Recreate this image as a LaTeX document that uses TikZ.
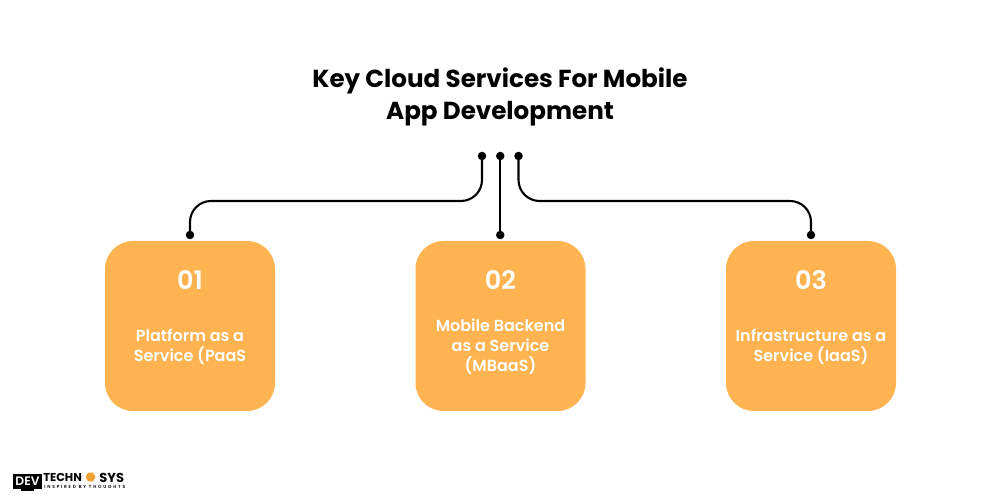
\documentclass[tikz,border=0pt]{standalone}
\usepackage{fontspec}
\setmainfont{Poppins}[BoldFont={Poppins SemiBold}]
\newfontfamily\headfont{Poppins Bold}
\usepackage{xcolor}
\usetikzlibrary{shapes.geometric}
\definecolor{boxorange}{RGB}{255,179,81}
\definecolor{hexorange}{RGB}{245,160,50}
\tikzset{
  servicebox/.style={fill=boxorange,rounded corners=0.56cm,minimum width=3.4cm,minimum height=3.4cm,inner sep=0pt},
  tipdot/.style={circle,fill=black,inner sep=0pt,minimum size=0.17cm},
  wire/.style={line width=0.042cm,black,rounded corners=0.42cm},
  numtext/.style={text=white,font=\fontsize{14.5}{16}\selectfont\bfseries},
  labeltext/.style={text=white,align=center,font=\fontsize{9.1}{11.4}\selectfont\bfseries},
  logotext/.style={black,inner sep=0pt,font=\fontsize{6.5}{6.5}\selectfont\headfont}
}
\begin{document}
\begin{tikzpicture}
  \useasboundingbox (0,0) rectangle (20,10);
  \fill [white] (0,0) rectangle (20,10);

  % title
  \node (title) [align=center,font=\fontsize{14}{18.2}\selectfont\headfont] at (10,8.06) {Key Cloud Services For Mobile\\App Development};

  % boxes
  \node (boxa) [servicebox] at (3.8,3.48) {};
  \node (boxb) [servicebox] at (10.01,3.48) {};
  \node (boxc) [servicebox] at (16.22,3.48) {};

  % numbers
  \node (numa) [numtext] at (3.8,4.39) {01};
  \node (numb) [numtext] at (10.01,4.39) {02};
  \node (numc) [numtext] at (16.22,4.39) {03};

  % labels
  \node (laba) [labeltext] at (3.8,3.06) {Platform as a\\Service (PaaS};
  \node (labb) [labeltext] at (10.01,3.06) {Mobile Backend\\as a Service\\(MBaaS)};
  \node (labc) [labeltext] at (16.22,3.06) {Infrastructure as a\\Service (IaaS)};

  % connector ends
  \node (topa) [tipdot] at (9.64,6.88) {};
  \node (topb) [tipdot] at (10.005,6.88) {};
  \node (topc) [tipdot] at (10.37,6.88) {};
  \node (enda) [tipdot] at (3.8,5.3) {};
  \node (endb) [tipdot] at (10.005,5.3) {};
  \node (endc) [tipdot] at (16.22,5.3) {};
  \coordinate (level) at (10,5.98);

  % connectors
  \draw [wire] (topa.center) -- (topa |- level) -- (enda |- level) -- (enda.center);
  \draw [wire] (topb.center) -- (endb.center);
  \draw [wire] (topc.center) -- (topc |- level) -- (endc |- level) -- (endc.center);

  % logo
  \node (screen) [fill=black,minimum width=0.58cm,minimum height=0.3cm,inner sep=0pt] at (0.55,0.37) {};
  \node (stand) [fill=black,minimum width=0.26cm,minimum height=0.05cm,inner sep=0pt] at (0.55,0.2) {};
  \node (dev) [text=white,inner sep=0pt,font=\fontsize{7}{8}\selectfont\bfseries] at (0.55,0.37) {DEV};
  \node (tech) [logotext,anchor=west] at (0.86,0.45) {TECHN};
  \node (hexa) [regular polygon,regular polygon sides=6,fill=hexorange,inner sep=0pt,minimum size=0.2cm] at (1.81,0.46) {};
  \node (sys) [logotext,anchor=east,font=\fontsize{7.4}{7}\selectfont\headfont] at (2.49,0.45) {SYS};
  \node (tag) [black,inner sep=0pt,anchor=west,font=\fontsize{2.5}{3}\selectfont\bfseries\addfontfeature{LetterSpace=40}] at (0.88,0.27) {INSPIRED BY THOUGHTS};
\end{tikzpicture}
\end{document}
